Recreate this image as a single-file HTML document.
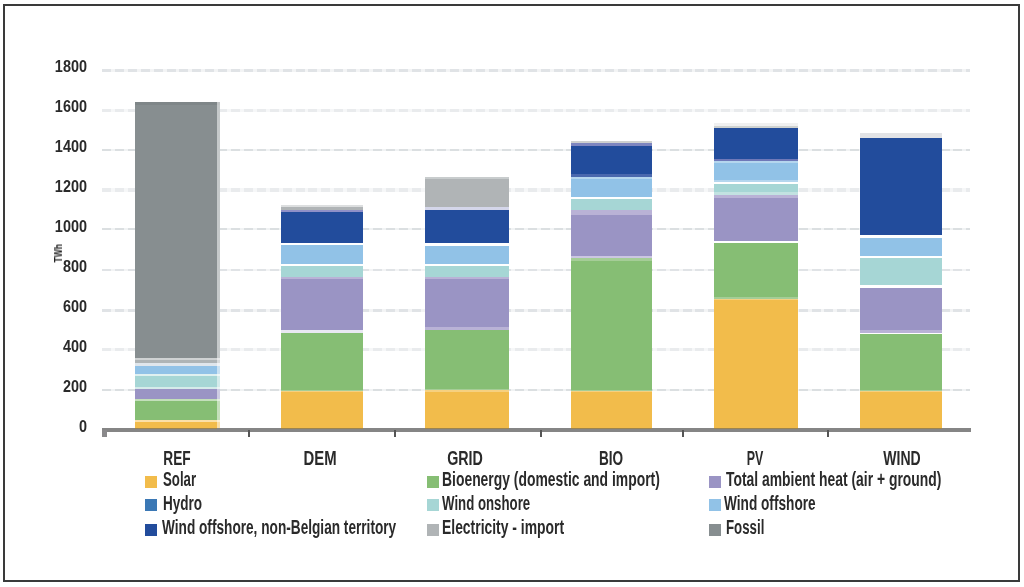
<!DOCTYPE html>
<html lang="en"><head><meta charset="utf-8"><title>Chart</title>
<style>
html,body{margin:0;padding:0;background:#fff;}
body{width:1024px;height:587px;position:relative;overflow:hidden;font-family:"Liberation Sans",sans-serif;color:#222;}
.frame{position:absolute;left:3px;top:4px;width:1013px;height:574px;border:2px solid #3a3a3a;box-sizing:content-box;}
.gl{position:absolute;left:102px;width:868px;height:2.5px;background:repeating-linear-gradient(90deg,#dfe3e6 0,#dfe3e6 9px,#f2f4f5 9px,#f2f4f5 12.9px);}
.s{position:absolute;}
.yl{position:absolute;left:39.8px;width:47px;text-align:right;font-size:17px;line-height:16px;font-weight:bold;transform:scaleX(.85);transform-origin:100% 50%;color:#2a2a2a;}
.cl{position:absolute;top:447.8px;width:100px;text-align:center;font-size:19.5px;line-height:20px;font-weight:bold;transform:scaleX(.84);transform-origin:50% 50%;color:#2a2a2a;}
.lt{position:absolute;font-size:19.5px;line-height:20px;font-weight:bold;white-space:nowrap;transform:scaleX(.84);transform-origin:0 50%;color:#2a2a2a;}
.yl,.cl,.lt,.yt{filter:blur(.55px);}
.sw{position:absolute;width:12px;height:12px;}
.axis{position:absolute;left:102px;top:427.5px;width:868.5px;height:4.5px;background:#858585;}
.tk{position:absolute;top:430px;width:2px;height:7px;background:#555;}
.yt{position:absolute;left:49px;top:249px;width:20px;height:10px;font-size:10px;line-height:10px;font-weight:bold;text-align:center;transform:rotate(-90deg) scaleX(.85);color:#222;}
</style></head><body>
<div class="frame"></div>
<div class="gl" style="top:389.00px;height:2px;background:repeating-linear-gradient(90deg,#dbdfe1 0,#dbdfe1 9px,#f1f3f4 9px,#f1f3f4 12.9px)"></div>
<div class="gl" style="top:347.90px;height:3.6px;background:repeating-linear-gradient(90deg,#e9ebed 0,#e9ebed 9px,#f6f7f8 9px,#f6f7f8 12.9px)"></div>
<div class="gl" style="top:309.40px;height:2.6px;background:repeating-linear-gradient(90deg,#e0e3e6 0,#e0e3e6 9px,#f3f4f5 9px,#f3f4f5 12.9px)"></div>
<div class="gl" style="top:268.70px;height:2.6px;background:repeating-linear-gradient(90deg,#e0e3e6 0,#e0e3e6 9px,#f3f4f5 9px,#f3f4f5 12.9px)"></div>
<div class="gl" style="top:228.40px;height:2px;background:repeating-linear-gradient(90deg,#dbdfe1 0,#dbdfe1 9px,#f1f3f4 9px,#f1f3f4 12.9px)"></div>
<div class="gl" style="top:188.20px;height:3.6px;background:repeating-linear-gradient(90deg,#e9ebed 0,#e9ebed 9px,#f6f7f8 9px,#f6f7f8 12.9px)"></div>
<div class="gl" style="top:149.00px;height:2px;background:repeating-linear-gradient(90deg,#dbdfe1 0,#dbdfe1 9px,#f1f3f4 9px,#f1f3f4 12.9px)"></div>
<div class="gl" style="top:108.60px;height:3.6px;background:repeating-linear-gradient(90deg,#e9ebed 0,#e9ebed 9px,#f6f7f8 9px,#f6f7f8 12.9px)"></div>
<div class="gl" style="top:69.10px;height:2.6px;background:repeating-linear-gradient(90deg,#e0e3e6 0,#e0e3e6 9px,#f3f4f5 9px,#f3f4f5 12.9px)"></div>
<div class="yl" style="top:419.0px">0</div>
<div class="yl" style="top:379.0px">200</div>
<div class="yl" style="top:339.0px">400</div>
<div class="yl" style="top:299.0px">600</div>
<div class="yl" style="top:259.0px">800</div>
<div class="yl" style="top:219.0px">1000</div>
<div class="yl" style="top:179.0px">1200</div>
<div class="yl" style="top:139.0px">1400</div>
<div class="yl" style="top:99.0px">1600</div>
<div class="yl" style="top:59.0px">1800</div>
<div class="yt">TWh</div>
<div class="s" style="left:135.25px;top:102.00px;width:84.50px;height:326.00px;background:#fff"></div>
<div class="s" style="left:135.25px;top:421.50px;width:84.50px;height:6.50px;background:#f2bc4b"></div>
<div class="s" style="left:135.25px;top:419.75px;width:84.50px;height:1.75px;background:#fbe0a8"></div>
<div class="s" style="left:135.25px;top:401.00px;width:84.50px;height:18.75px;background:#86be74"></div>
<div class="s" style="left:135.25px;top:398.75px;width:84.50px;height:2.25px;background:#c3dfba"></div>
<div class="s" style="left:135.25px;top:389.00px;width:84.50px;height:9.75px;background:#9a94c4"></div>
<div class="s" style="left:135.25px;top:386.90px;width:84.50px;height:2.10px;background:#d5ebea"></div>
<div class="s" style="left:135.25px;top:375.90px;width:84.50px;height:11.00px;background:#a6d6d5"></div>
<div class="s" style="left:135.25px;top:373.75px;width:84.50px;height:2.15px;background:#dff0f0"></div>
<div class="s" style="left:135.25px;top:366.00px;width:84.50px;height:7.75px;background:#91c2e7"></div>
<div class="s" style="left:135.25px;top:362.90px;width:84.50px;height:3.10px;background:#dfe6ec"></div>
<div class="s" style="left:135.25px;top:359.75px;width:84.50px;height:3.15px;background:#aeb4b6"></div>
<div class="s" style="left:135.25px;top:358.10px;width:84.50px;height:1.65px;background:#cfd2d3"></div>
<div class="s" style="left:135.25px;top:102.00px;width:84.50px;height:256.10px;background:#878e90"></div>
<div class="s" style="left:135.25px;top:102px;width:84.5px;height:3px;background:#7f8688"></div>
<div class="s" style="left:217px;top:102px;width:2.75px;height:326px;background:rgba(255,255,255,.52)"></div>
<div class="s" style="left:281.00px;top:205.00px;width:82.00px;height:223.00px;background:#fff"></div>
<div class="s" style="left:281.00px;top:392.00px;width:82.00px;height:36.00px;background:#f2bc4b"></div>
<div class="s" style="left:281.00px;top:390.70px;width:82.00px;height:1.30px;background:#f6d07f"></div>
<div class="s" style="left:281.00px;top:389.50px;width:82.00px;height:1.20px;background:#a5cd97"></div>
<div class="s" style="left:281.00px;top:332.50px;width:82.00px;height:57.00px;background:#86be74"></div>
<div class="s" style="left:281.00px;top:330.00px;width:82.00px;height:2.50px;background:#e9e8f2"></div>
<div class="s" style="left:281.00px;top:278.75px;width:82.00px;height:51.25px;background:#9a94c4"></div>
<div class="s" style="left:281.00px;top:277.00px;width:82.00px;height:1.75px;background:#b9b2d6"></div>
<div class="s" style="left:281.00px;top:265.75px;width:82.00px;height:11.25px;background:#a6d6d5"></div>
<div class="s" style="left:281.00px;top:245.00px;width:82.00px;height:18.75px;background:#91c2e7"></div>
<div class="s" style="left:281.00px;top:212.00px;width:82.00px;height:31.00px;background:#224c9c"></div>
<div class="s" style="left:281.00px;top:210.00px;width:82.00px;height:2.00px;background:#8f90c8"></div>
<div class="s" style="left:281.00px;top:206.50px;width:82.00px;height:3.50px;background:#b0b4b6"></div>
<div class="s" style="left:281.00px;top:205.00px;width:82.00px;height:1.50px;background:#dcdedf"></div>
<div class="s" style="left:425.00px;top:177.25px;width:83.75px;height:250.75px;background:#fff"></div>
<div class="s" style="left:425.00px;top:392.00px;width:83.75px;height:36.00px;background:#f2bc4b"></div>
<div class="s" style="left:425.00px;top:390.30px;width:83.75px;height:1.70px;background:#f6d07f"></div>
<div class="s" style="left:425.00px;top:388.75px;width:83.75px;height:1.55px;background:#a5cd97"></div>
<div class="s" style="left:425.00px;top:330.00px;width:83.75px;height:58.75px;background:#86be74"></div>
<div class="s" style="left:425.00px;top:327.00px;width:83.75px;height:3.00px;background:#b9b2d6"></div>
<div class="s" style="left:425.00px;top:278.75px;width:83.75px;height:48.25px;background:#9a94c4"></div>
<div class="s" style="left:425.00px;top:277.00px;width:83.75px;height:1.75px;background:#b9b2d6"></div>
<div class="s" style="left:425.00px;top:265.75px;width:83.75px;height:11.25px;background:#a6d6d5"></div>
<div class="s" style="left:425.00px;top:245.50px;width:83.75px;height:18.25px;background:#91c2e7"></div>
<div class="s" style="left:425.00px;top:209.75px;width:83.75px;height:33.25px;background:#224c9c"></div>
<div class="s" style="left:425.00px;top:207.25px;width:83.75px;height:2.50px;background:#d4d6ea"></div>
<div class="s" style="left:425.00px;top:179.40px;width:83.75px;height:27.85px;background:#b0b4b6"></div>
<div class="s" style="left:425.00px;top:177.25px;width:83.75px;height:2.15px;background:#c8cccd"></div>
<div class="s" style="left:570.50px;top:141.00px;width:81.50px;height:287.00px;background:#fff"></div>
<div class="s" style="left:570.50px;top:392.00px;width:81.50px;height:36.00px;background:#f2bc4b"></div>
<div class="s" style="left:570.50px;top:391.00px;width:81.50px;height:1.00px;background:#f6d07f"></div>
<div class="s" style="left:570.50px;top:390.00px;width:81.50px;height:1.00px;background:#a5cd97"></div>
<div class="s" style="left:570.50px;top:260.50px;width:81.50px;height:129.50px;background:#86be74"></div>
<div class="s" style="left:570.50px;top:258.00px;width:81.50px;height:2.50px;background:#a5cd97"></div>
<div class="s" style="left:570.50px;top:256.00px;width:81.50px;height:2.00px;background:#cbc6e2"></div>
<div class="s" style="left:570.50px;top:214.50px;width:81.50px;height:41.50px;background:#9a94c4"></div>
<div class="s" style="left:570.50px;top:210.00px;width:81.50px;height:4.50px;background:#b9b2d6"></div>
<div class="s" style="left:570.50px;top:199.25px;width:81.50px;height:10.25px;background:#a6d6d5"></div>
<div class="s" style="left:570.50px;top:178.75px;width:81.50px;height:18.25px;background:#91c2e7"></div>
<div class="s" style="left:570.50px;top:177.00px;width:81.50px;height:1.75px;background:#b5d6ee"></div>
<div class="s" style="left:570.50px;top:174.00px;width:81.50px;height:3.00px;background:#4a68ae"></div>
<div class="s" style="left:570.50px;top:146.00px;width:81.50px;height:28.00px;background:#224c9c"></div>
<div class="s" style="left:570.50px;top:143.10px;width:81.50px;height:2.90px;background:#7e86c0"></div>
<div class="s" style="left:570.50px;top:141.00px;width:81.50px;height:2.10px;background:#cfd1d0"></div>
<div class="s" style="left:713.75px;top:123.00px;width:84.25px;height:305.00px;background:#fff"></div>
<div class="s" style="left:713.75px;top:300.00px;width:84.25px;height:128.00px;background:#f2bc4b"></div>
<div class="s" style="left:713.75px;top:298.50px;width:84.25px;height:1.50px;background:#f6d07f"></div>
<div class="s" style="left:713.75px;top:297.00px;width:84.25px;height:1.50px;background:#a5cd97"></div>
<div class="s" style="left:713.75px;top:243.00px;width:84.25px;height:54.00px;background:#86be74"></div>
<div class="s" style="left:713.75px;top:197.50px;width:84.25px;height:43.00px;background:#9a94c4"></div>
<div class="s" style="left:713.75px;top:194.50px;width:84.25px;height:3.00px;background:#b9b2d6"></div>
<div class="s" style="left:713.75px;top:192.00px;width:84.25px;height:2.50px;background:#c2e2e1"></div>
<div class="s" style="left:713.75px;top:183.75px;width:84.25px;height:8.25px;background:#a6d6d5"></div>
<div class="s" style="left:713.75px;top:179.50px;width:84.25px;height:2.50px;background:#b5d6ee"></div>
<div class="s" style="left:713.75px;top:162.50px;width:84.25px;height:17.00px;background:#91c2e7"></div>
<div class="s" style="left:713.75px;top:161.25px;width:84.25px;height:1.25px;background:#b5d6ee"></div>
<div class="s" style="left:713.75px;top:158.75px;width:84.25px;height:2.50px;background:#6f78b8"></div>
<div class="s" style="left:713.75px;top:128.10px;width:84.25px;height:30.65px;background:#224c9c"></div>
<div class="s" style="left:713.75px;top:125.60px;width:84.25px;height:2.50px;background:#cfd2d0"></div>
<div class="s" style="left:713.75px;top:123.00px;width:84.25px;height:2.60px;background:#f0f0f0"></div>
<div class="s" style="left:859.75px;top:133.10px;width:82.50px;height:294.90px;background:#fff"></div>
<div class="s" style="left:859.75px;top:392.00px;width:82.50px;height:36.00px;background:#f2bc4b"></div>
<div class="s" style="left:859.75px;top:390.70px;width:82.50px;height:1.30px;background:#f6d07f"></div>
<div class="s" style="left:859.75px;top:389.50px;width:82.50px;height:1.20px;background:#a5cd97"></div>
<div class="s" style="left:859.75px;top:334.00px;width:82.50px;height:55.50px;background:#86be74"></div>
<div class="s" style="left:859.75px;top:330.00px;width:82.50px;height:2.50px;background:#b9b2d6"></div>
<div class="s" style="left:859.75px;top:287.50px;width:82.50px;height:42.50px;background:#9a94c4"></div>
<div class="s" style="left:859.75px;top:258.00px;width:82.50px;height:27.00px;background:#a6d6d5"></div>
<div class="s" style="left:859.75px;top:237.50px;width:82.50px;height:18.00px;background:#91c2e7"></div>
<div class="s" style="left:859.75px;top:138.10px;width:82.50px;height:96.90px;background:#224c9c"></div>
<div class="s" style="left:859.75px;top:133.10px;width:82.50px;height:5.00px;background:#e2e3e6"></div>
<div class="axis"></div>
<div class="s" style="left:135.25px;top:427.6px;width:81.75px;height:1.6px;background:#9c8450"></div>
<div class="s" style="left:281.00px;top:427.6px;width:82.00px;height:1.6px;background:#9c8450"></div>
<div class="s" style="left:425.00px;top:427.6px;width:83.75px;height:1.6px;background:#9c8450"></div>
<div class="s" style="left:570.50px;top:427.6px;width:81.50px;height:1.6px;background:#9c8450"></div>
<div class="s" style="left:713.75px;top:427.6px;width:84.25px;height:1.6px;background:#9c8450"></div>
<div class="s" style="left:859.75px;top:427.6px;width:82.50px;height:1.6px;background:#9c8450"></div>
<div class="tk" style="left:102.2px;width:4.5px;background:#8a898b"></div>
<div class="tk" style="left:247.5px"></div>
<div class="tk" style="left:393.5px"></div>
<div class="tk" style="left:539.5px"></div>
<div class="tk" style="left:682.0px"></div>
<div class="tk" style="left:827.0px"></div>
<div class="cl" style="left:127.25px;transform:scaleX(0.702)">REF</div>
<div class="cl" style="left:270.00px;transform:scaleX(0.763)">DEM</div>
<div class="cl" style="left:414.75px;transform:scaleX(0.732)">GRID</div>
<div class="cl" style="left:560.60px;transform:scaleX(0.697)">BIO</div>
<div class="cl" style="left:705.40px;transform:scaleX(0.637)">PV</div>
<div class="cl" style="left:852.00px;transform:scaleX(0.720)">WIND</div>
<div class="sw" style="left:145.3px;top:475.60px;background:#f2bc4b"></div><div class="lt" style="left:163px;top:468.50px;transform:scaleX(0.678)">Solar</div>
<div class="sw" style="left:145.3px;top:499.00px;background:#3b78b5"></div><div class="lt" style="left:163px;top:492.60px;transform:scaleX(0.694)">Hydro</div>
<div class="sw" style="left:145.3px;top:523.80px;background:#224c9c"></div><div class="lt" style="left:161.5px;top:517.40px;transform:scaleX(0.700)">Wind offshore, non-Belgian territory</div>
<div class="sw" style="left:427px;top:475.60px;background:#86be74"></div><div class="lt" style="left:442px;top:468.50px;transform:scaleX(0.713)">Bioenergy (domestic and import)</div>
<div class="sw" style="left:427px;top:499.00px;background:#a6d6d5"></div><div class="lt" style="left:442px;top:492.60px;transform:scaleX(0.679)">Wind onshore</div>
<div class="sw" style="left:427px;top:523.80px;background:#b0b4b6"></div><div class="lt" style="left:442px;top:517.40px;transform:scaleX(0.713)">Electricity - import</div>
<div class="sw" style="left:709px;top:475.60px;background:#9a94c4"></div><div class="lt" style="left:725.75px;top:468.50px;transform:scaleX(0.712)">Total ambient heat (air + ground)</div>
<div class="sw" style="left:709px;top:499.00px;background:#91c2e7"></div><div class="lt" style="left:724.25px;top:492.60px;transform:scaleX(0.700)">Wind offshore</div>
<div class="sw" style="left:709px;top:523.80px;background:#878e90"></div><div class="lt" style="left:725.75px;top:517.40px;transform:scaleX(0.680)">Fossil</div>
</body></html>
